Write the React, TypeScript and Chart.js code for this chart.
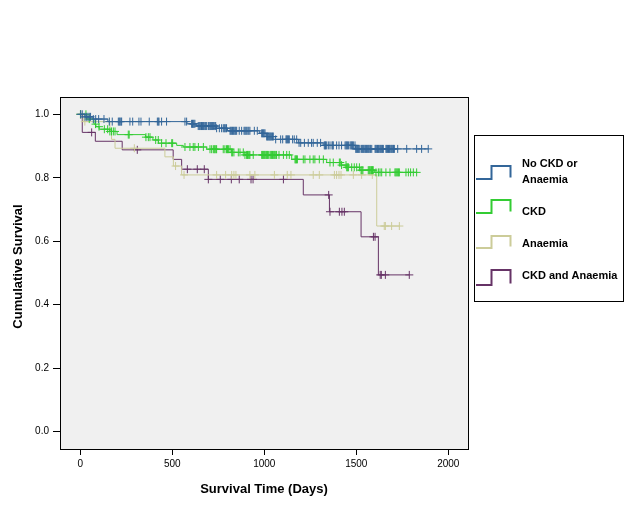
import React, { useEffect, useRef } from "react";
import { Chart, registerables } from "chart.js";

Chart.register(...registerables);

const groupNames = [["No CKD or", "Anaemia"], ["CKD"], ["Anaemia"], ["CKD and Anaemia"]];
const groupColors = ["#336699", "#33cc33", "#cccc99", "#663366"];

const xTitle = "Survival Time (Days)";
const yTitle = "Cumulative Survival";
const xTicks = [0, 500, 1000, 1500, 2000];
const yTicks = [0, 0.2, 0.4, 0.6, 0.8, 1.0];

// [day, survival from that day on]
const noCkdSteps = [
  [0, 1], [25, 0.992], [70, 0.985], [150, 0.977], [580, 0.97], [630, 0.963], [740, 0.956],
  [800, 0.948], [975, 0.94], [1010, 0.93], [1060, 0.921], [1185, 0.91], [1320, 0.902], [1495, 0.891],
];
const noCkdCensored = [
  2, 11, 26, 35, 42, 49, 56, 71, 84, 100, 129, 158, 174, 207, 212, 216, 221, 225, 270, 285, 319, 330,
  375, 419, 424, 428, 442, 469, 569, 578, 605, 610, 614, 618, 623, 641, 646, 650, 655, 659, 664, 669,
  673, 678, 682, 687, 696, 700, 705, 709, 714, 718, 723, 727, 732, 736, 741, 756, 768, 777, 782, 786,
  791, 795, 814, 818, 823, 827, 832, 836, 841, 845, 850, 864, 877, 890, 895, 900, 905, 911, 916, 922,
  946, 962, 986, 990, 995, 999, 1004, 1013, 1018, 1022, 1027, 1031, 1035, 1040, 1045, 1049, 1062,
  1089, 1100, 1118, 1122, 1127, 1131, 1136, 1154, 1163, 1176, 1189, 1198, 1218, 1239, 1257, 1266,
  1288, 1306, 1326, 1330, 1333, 1339, 1348, 1357, 1368, 1372, 1375, 1393, 1406, 1420, 1439, 1444,
  1448, 1453, 1457, 1466, 1471, 1475, 1480, 1484, 1493, 1497, 1502, 1506, 1511, 1515, 1520, 1529,
  1533, 1538, 1542, 1547, 1551, 1556, 1560, 1565, 1569, 1574, 1578, 1584, 1602, 1606, 1611, 1615,
  1620, 1624, 1629, 1633, 1638, 1642, 1647, 1661, 1665, 1670, 1675, 1680, 1684, 1689, 1693, 1698,
  1702, 1707, 1725, 1774, 1828, 1855, 1891,
];

const ckdSteps = [
  [0, 1], [35, 0.985], [75, 0.969], [85, 0.961], [103, 0.953], [160, 0.946], [200, 0.936],
  [355, 0.928], [395, 0.919], [425, 0.909], [524, 0.902], [560, 0.897], [687, 0.89], [823, 0.88],
  [895, 0.872], [1149, 0.858], [1339, 0.848], [1420, 0.84], [1445, 0.833], [1520, 0.824], [1600, 0.817],
];
const ckdCensored = [
  1, 31, 49, 83, 102, 131, 149, 161, 170, 180, 189, 261, 266, 357, 370, 379, 410, 424, 442, 466, 497,
  502, 569, 596, 614, 623, 642, 669, 705, 714, 723, 728, 732, 737, 741, 777, 786, 795, 800, 805, 814,
  823, 828, 835, 859, 868, 886, 895, 904, 909, 913, 918, 922, 940, 986, 991, 995, 1000, 1004, 1009,
  1013, 1018, 1022, 1031, 1036, 1040, 1045, 1049, 1054, 1058, 1063, 1067, 1080, 1104, 1122, 1136,
  1167, 1171, 1175, 1180, 1212, 1221, 1248, 1266, 1275, 1299, 1321, 1357, 1375, 1408, 1413, 1420,
  1444, 1448, 1453, 1457, 1475, 1489, 1502, 1517, 1526, 1531, 1536, 1565, 1570, 1574, 1579, 1583,
  1588, 1592, 1607, 1620, 1629, 1638, 1661, 1683, 1710, 1715, 1720, 1725, 1730, 1734, 1770, 1783,
  1795, 1810, 1828,
];

const anaemiaSteps = [
  [0, 1], [16, 0.977], [161, 0.95], [170, 0.921], [189, 0.893], [460, 0.866], [506, 0.837],
  [551, 0.809], [1611, 0.648],
];
const anaemiaCensored = [
  2, 25, 158, 294, 518, 564, 741, 790, 823, 835, 846, 922, 949, 1055, 1125, 1145, 1266, 1299, 1381,
  1393, 1406, 1417, 1484, 1529, 1587, 1652, 1658, 1692, 1734,
];

const bothSteps = [
  [0, 1], [11, 0.943], [82, 0.915], [228, 0.888], [505, 0.858], [551, 0.827], [696, 0.795],
  [1212, 0.746], [1354, 0.693], [1526, 0.614], [1620, 0.494],
];
const bothCensored = [
  2, 62, 310, 582, 636, 674, 696, 761, 821, 864, 928, 939, 1104, 1350, 1357, 1408, 1422, 1435, 1593,
  1602, 1630, 1636, 1658, 1788,
];

const groupSteps = [noCkdSteps, ckdSteps, anaemiaSteps, bothSteps];
const groupCensored = [noCkdCensored, ckdCensored, anaemiaCensored, bothCensored];

const FONT = "'Liberation Sans', Arial, sans-serif";

function survivalAt(steps: number[][], t: number) {
  let s = steps[0][1];
  for (const [st, sv] of steps) {
    if (st <= t) s = sv;
  }
  return s;
}

const decorPlugin = {
  id: "kmDecor",
  beforeDraw(chart: any) {
    const { ctx, chartArea: a } = chart;
    ctx.save();
    ctx.fillStyle = "#ffffff";
    ctx.fillRect(0, 0, chart.width, chart.height);
    ctx.fillStyle = "#f0f0f0";
    ctx.fillRect(a.left, a.top, a.right - a.left, a.bottom - a.top);
    ctx.restore();
  },
  afterDraw(chart: any) {
    const { ctx, chartArea: a } = chart;
    ctx.save();
    ctx.strokeStyle = "#000";
    ctx.lineWidth = 1;
    ctx.strokeRect(Math.round(a.left) + 0.5, Math.round(a.top) + 0.5, Math.round(a.right - a.left), Math.round(a.bottom - a.top));

    // axis titles
    ctx.fillStyle = "#000";
    ctx.font = `bold 13px ${FONT}`;
    ctx.textAlign = "center";
    ctx.textBaseline = "alphabetic";
    ctx.fillText(xTitle, (a.left + a.right) / 2, 493);
    ctx.save();
    ctx.translate(21.5, 266.5);
    ctx.rotate(-Math.PI / 2);
    ctx.fillText(yTitle, 0, 0);
    ctx.restore();

    // legend box
    ctx.strokeRect(474.5, 135.5, 149, 166);
    const lows = [179, 213, 248, 285];
    const highs = [166, 200, 236, 270];
    const baselines = [[166.7, 182.7], [215], [246.7], [279]];
    ctx.font = `bold 11px ${FONT}`;
    ctx.textAlign = "left";
    groupNames.forEach((lines, i) => {
      ctx.strokeStyle = groupColors[i];
      ctx.lineWidth = 2;
      ctx.beginPath();
      ctx.moveTo(476, lows[i]);
      ctx.lineTo(491.5, lows[i]);
      ctx.lineTo(491.5, highs[i]);
      ctx.lineTo(510.5, highs[i]);
      ctx.lineTo(510.5, lows[i] - 1.5);
      ctx.stroke();
      ctx.fillStyle = "#000";
      lines.forEach((txt, j) => ctx.fillText(txt, 522, baselines[i][j]));
    });
    ctx.restore();
  },
};

const App: React.FC = () => {
  const chartRef = useRef<HTMLCanvasElement | null>(null);
  const chartInstance = useRef<Chart | null>(null);

  useEffect(() => {
    if (chartInstance.current) {
      chartInstance.current.destroy();
    }
    const ctx = chartRef.current?.getContext("2d");
    if (!ctx) return;

    const datasets: any[] = [];
    groupSteps.forEach((steps, i) => {
      const censored = groupCensored[i];
      const end = Math.max(...censored);
      datasets.push({
        type: "line",
        label: groupNames[i].join(" "),
        data: [...steps.map(([t, s]) => ({ x: t, y: s })), { x: end, y: steps[steps.length - 1][1] }],
        borderColor: groupColors[i],
        borderWidth: 1,
        pointRadius: 0,
        stepped: true,
        fill: false,
      });
      datasets.push({
        type: "line",
        label: groupNames[i].join(" ") + " censored",
        data: censored.map((t) => ({ x: t, y: survivalAt(steps, t) })),
        showLine: false,
        pointStyle: "cross",
        pointRadius: 4,
        pointBorderWidth: 1,
        pointBorderColor: groupColors[i],
        borderColor: groupColors[i],
      });
    });

    chartInstance.current = new Chart(ctx, {
      type: "line",
      data: { datasets },
      plugins: [decorPlugin],
      options: {
        responsive: false,
        animation: false,
        events: [],
        layout: { padding: { left: 0, top: 97, right: 172, bottom: 0 } },
        plugins: { legend: { display: false }, tooltip: { enabled: false } },
        scales: {
          x: {
            type: "linear",
            min: -110,
            max: 2107,
            afterBuildTicks: (scale: any) => {
              scale.ticks = xTicks.map((v) => ({ value: v }));
            },
            afterFit: (scale: any) => {
              scale.height = 63;
            },
            border: { display: false },
            grid: { drawOnChartArea: false, drawTicks: true, tickLength: 6, color: "#000" },
            ticks: {
              autoSkip: false,
              maxRotation: 0,
              padding: 3,
              color: "#000",
              font: { family: FONT, size: 10 },
              callback: (v: any) => String(v),
            },
          },
          y: {
            type: "linear",
            min: -0.0545,
            max: 1.0545,
            afterBuildTicks: (scale: any) => {
              scale.ticks = yTicks.map((v) => ({ value: v }));
            },
            afterFit: (scale: any) => {
              scale.width = 60;
            },
            border: { display: false },
            grid: { drawOnChartArea: false, drawTicks: true, tickLength: 7, color: "#000" },
            ticks: {
              autoSkip: false,
              padding: 4,
              color: "#000",
              font: { family: FONT, size: 10 },
              callback: (v: any) => Number(v).toFixed(1),
            },
          },
        },
      },
    });

    return () => {
      if (chartInstance.current) {
        chartInstance.current.destroy();
        chartInstance.current = null;
      }
    };
  }, []);

  return (
    <div style={{ position: "fixed", left: 0, top: 0, width: 640, height: 512, background: "#fff" }}>
      <canvas ref={chartRef} width={640} height={512} />
    </div>
  );
};

export default App;
